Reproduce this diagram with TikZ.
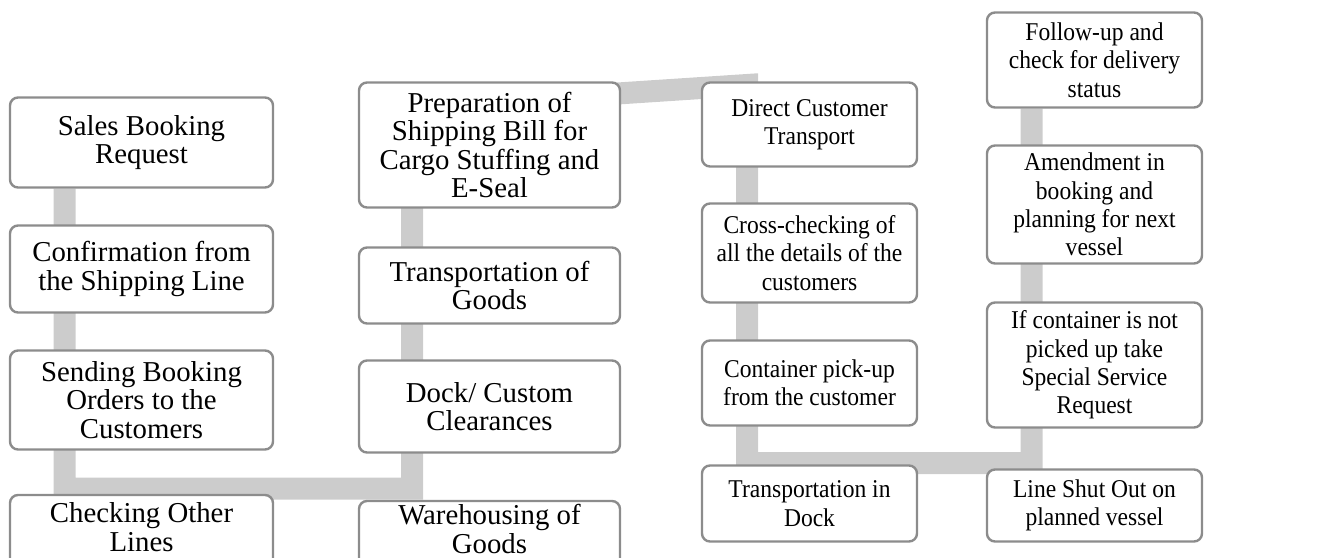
\documentclass[tikz,border=0pt]{standalone}
\usepackage{fontspec}
\setmainfont{Liberation Serif}
\newfontfamily\narrowserif[FakeStretch=0.92]{Liberation Serif}
\usetikzlibrary{backgrounds}

\definecolor{bandgray}{RGB}{204,204,204}
\definecolor{boxgray}{RGB}{140,140,140}

\tikzset{
  stepbox/.style={draw=boxgray, line width=1.2pt, rounded corners=4pt, fill=white, align=center, inner sep=0pt},
  colA/.style={minimum width=131.5pt, font=\fontsize{14.4pt}{14.15pt}\selectfont},
  colB/.style={minimum width=130.5pt, font=\fontsize{14.4pt}{14.15pt}\selectfont},
  colC/.style={minimum width=107.5pt, font=\narrowserif\fontsize{12.8pt}{14.15pt}\selectfont},
  band/.style={draw=bandgray, line width=11pt}
}

\begin{document}
\begin{tikzpicture}[x=0.5pt,y=-0.5pt]
    \useasboundingbox (0,0) rectangle (1317,557);
    \clip (0,0) rectangle (1317,557);

    % first column
    \node[stepbox,colA,minimum height=45pt] (A1) at (141.5,142.5) {Sales Booking\\Request};
    \node[stepbox,colA,minimum height=43.5pt] (A2) at (141.5,269) {Confirmation from\\the Shipping Line};
    \node[stepbox,colA,minimum height=49.5pt] (A3) at (141.5,400) {Sending Booking\\Orders to the\\Customers};
    \node[stepbox,colA,minimum height=42pt,text depth=10pt] (A4) at (141.5,537) {Checking Other\\Lines};

    % second column
    \node[stepbox,colB,minimum height=62.5pt] (B1) at (489.5,145) {Preparation of\\Shipping Bill for\\Cargo Stuffing and\\E-Seal};
    \node[stepbox,colB,minimum height=38pt] (B2) at (489.5,285.5) {Transportation of\\Goods};
    \node[stepbox,colB,minimum height=46pt] (B3) at (489.5,406.5) {Dock/ Custom\\Clearances};
    \node[stepbox,colB,minimum height=42pt,text depth=14pt] (B4) at (489.5,543) {Warehousing of\\Goods};

    % third column
    \node[stepbox,colC,minimum height=42pt] (C1) at (809.5,124.5) {Direct Customer\\Transport};
    \node[stepbox,colC,minimum height=49.5pt] (C2) at (809.5,253) {Cross-checking of\\all the details of the\\customers};
    \node[stepbox,colC,minimum height=42.5pt] (C3) at (809.5,383) {Container pick-up\\from the customer};
    \node[stepbox,colC,minimum height=38pt] (C4) at (809.5,503.5) {Transportation in\\Dock};

    % fourth column
    \node[stepbox,colC,minimum height=47.5pt] (D1) at (1094.5,60) {Follow-up and\\check for delivery\\status};
    \node[stepbox,colC,minimum height=59pt] (D2) at (1094.5,204.5) {Amendment in\\booking and\\planning for next\\vessel};
    \node[stepbox,colC,minimum height=62.5pt] (D3) at (1094.5,365) {If container is not\\picked up take\\Special Service\\Request};
    \node[stepbox,colC,minimum height=36pt] (D4) at (1094.5,505.5) {Line Shut Out on\\planned vessel};

    % bending band behind the boxes
    \coordinate (k1) at (64.5,0);
    \coordinate (k2) at (412,0);
    \coordinate (k3) at (747,0);
    \coordinate (k4) at (1031.5,0);
    \coordinate (h1) at (0,488.5);
    \coordinate (h3) at (0,463);
    \coordinate (s2) at (412,107);
    \coordinate (s3) at (747,85);
    \begin{pgfonlayer}{background}
      \draw[band] (A1.south -| k1) -- (k1 |- h1) -- (k2 |- h1) -- (s2) -- (s3)
        -- (k3 |- h3) -- (k4 |- h3) -- (D1.south -| k4);
    \end{pgfonlayer}
  \end{tikzpicture}
\end{document}
